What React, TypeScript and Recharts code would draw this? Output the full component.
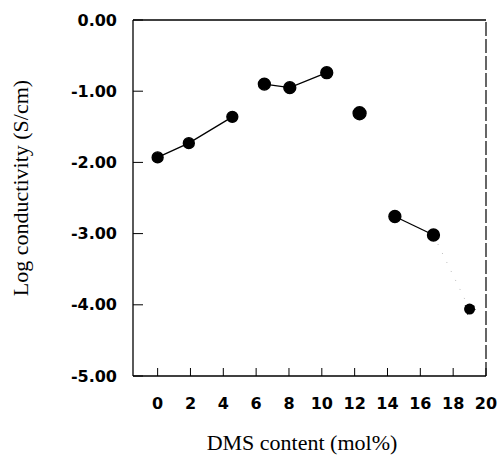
import React from "react";
import { LineChart, Line, XAxis, YAxis, Label, ReferenceLine } from "recharts";

// DMS content (mol%) vs log conductivity (S/cm), one array per connected run
const runA = [
  { x: 0, y: -1.93 },
  { x: 1.9, y: -1.73 },
  { x: 4.55, y: -1.36 },
];
const runB = [
  { x: 6.5, y: -0.9 },
  { x: 8.05, y: -0.95 },
  { x: 10.3, y: -0.74 },
];
const runC = [{ x: 12.3, y: -1.31 }];
const runD = [
  { x: 14.45, y: -2.76 },
  { x: 16.8, y: -3.02 },
];
const runE = [
  { x: 16.8, y: -3.02 },
  { x: 19.0, y: -4.06 },
];

const xTicks = [0, 2, 4, 6, 8, 10, 12, 14, 16, 18, 20];
const yTicks = [-5, -4, -3, -2, -1, 0];

const tickFont = { fontFamily: "DejaVu Sans", fontSize: 16, fontWeight: 600, fill: "#000" };
const titleFont = { fontFamily: "Liberation Serif", fontSize: 22, fill: "#000" };

const App: React.FC = () => {
  return (
    <div style={{ position: "absolute", left: 0, top: 0, background: "#fff" }}>
      <LineChart
        width={497}
        height={459}
        margin={{ top: 20, right: 11, left: 0, bottom: 0 }}
      >
        <XAxis
          type="number"
          dataKey="x"
          domain={[-1.5, 20]}
          ticks={xTicks}
          height={83}
          tickSize={-8}
          tickMargin={30}
          tick={tickFont}
          axisLine={{ stroke: "#000", strokeWidth: 1.3 }}
          tickLine={{ stroke: "#000" }}
          allowDataOverflow
        >
          <Label value="DMS content (mol%)" position="center" dx={-7.5} dy={24.5} style={titleFont} />
        </XAxis>
        <YAxis
          type="number"
          dataKey="y"
          domain={[-5, 0]}
          ticks={yTicks}
          width={133}
          tickSize={-10}
          tickMargin={26}
          tick={tickFont}
          tickFormatter={(v: number) => v.toFixed(2)}
          axisLine={{ stroke: "#000", strokeWidth: 1.3 }}
          tickLine={{ stroke: "#000" }}
        >
          <Label
            value="Log conductivity (S/cm)"
            position="center"
            angle={-90}
            dx={-46.5}
            dy={-10}
            style={titleFont}
          />
        </YAxis>
        <ReferenceLine y={0} stroke="#000" strokeWidth={1.5} />
        <ReferenceLine x={20} stroke="#000" strokeWidth={1.2} strokeDasharray="14 3" />
        <Line data={runA} dataKey="y" stroke="#000" strokeWidth={1.3} dot={{ r: 5.5, fill: "#000", stroke: "#000" }} isAnimationActive={false} />
        <Line data={runB} dataKey="y" stroke="#000" strokeWidth={1.3} dot={{ r: 6, fill: "#000", stroke: "#000" }} isAnimationActive={false} />
        <Line data={runC} dataKey="y" stroke="#000" strokeWidth={1.3} dot={{ r: 6.5, fill: "#000", stroke: "#000" }} isAnimationActive={false} />
        <Line data={runE} dataKey="y" stroke="#bbb" strokeWidth={1} strokeDasharray="1 9" dot={{ r: 5.5, fill: "#000", stroke: "#000" }} isAnimationActive={false} />
        <Line data={runD} dataKey="y" stroke="#000" strokeWidth={1.3} dot={{ r: 6, fill: "#000", stroke: "#000" }} isAnimationActive={false} />
      </LineChart>
    </div>
  );
};

export default App;
